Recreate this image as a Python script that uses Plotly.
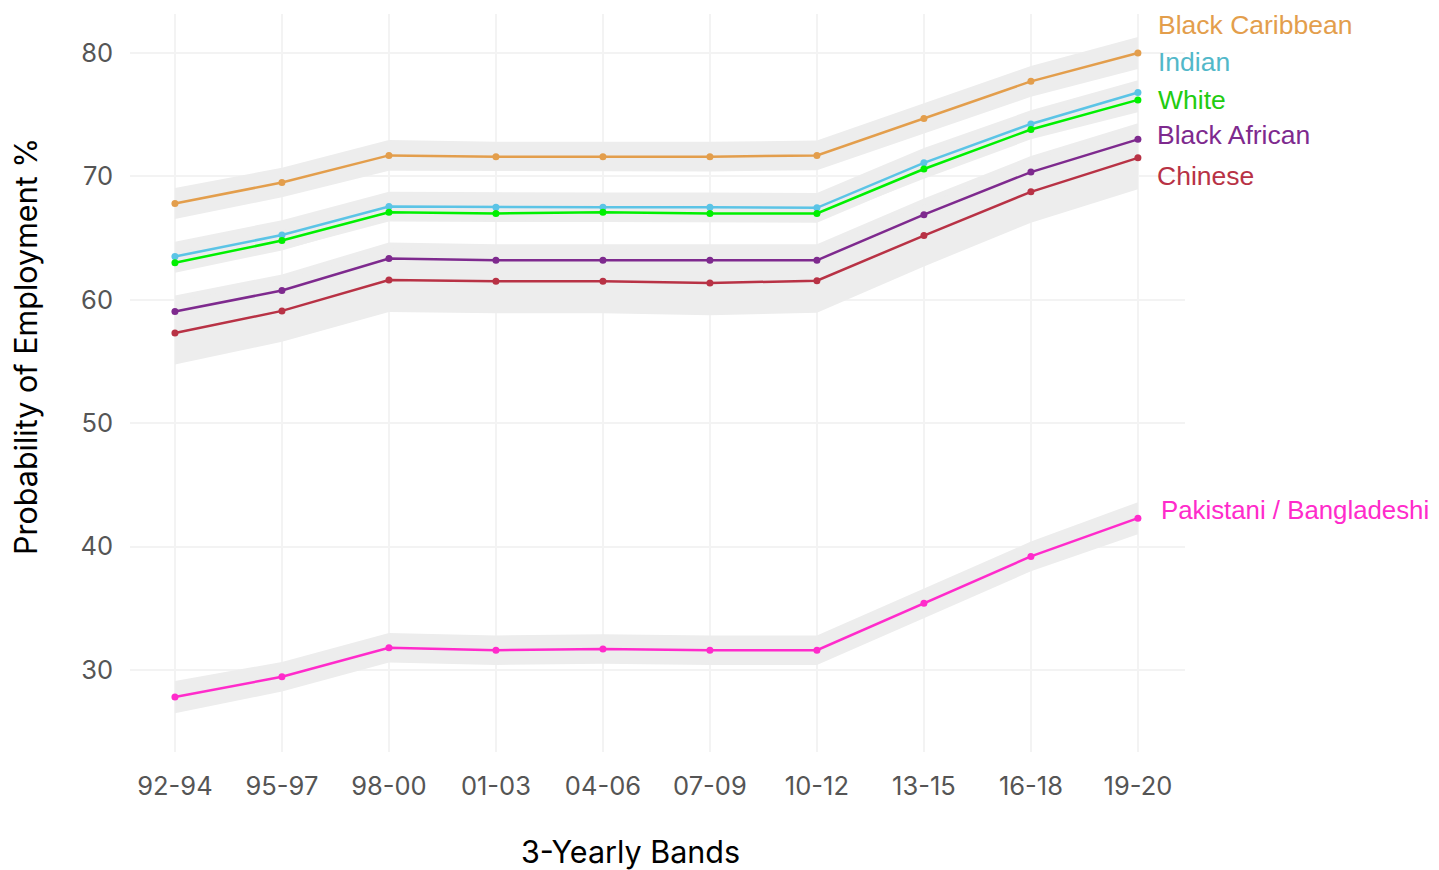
import plotly.graph_objects as go

bands = ["92-94", "95-97", "98-00", "01-03", "04-06", "07-09", "10-12", "13-15", "16-18", "19-20"]

black_caribbean = [67.8, 69.5, 71.7, 71.6, 71.6, 71.6, 71.7, 74.7, 77.7, 80.0]
indian = [63.5, 65.25, 67.55, 67.5, 67.5, 67.5, 67.45, 71.1, 74.25, 76.8]
white = [63.0, 64.8, 67.1, 67.0, 67.1, 67.0, 67.0, 70.6, 73.8, 76.2]
black_african = [59.05, 60.75, 63.35, 63.2, 63.2, 63.2, 63.2, 66.9, 70.35, 73.0]
chinese = [57.3, 59.1, 61.6, 61.5, 61.5, 61.35, 61.55, 65.2, 68.75, 71.5]
pakistani_bangladeshi = [27.8, 29.45, 31.8, 31.6, 31.7, 31.6, 31.6, 35.4, 39.2, 42.3]

# confidence half-widths (percentage points)
ci_black_caribbean = [1.25, 1.2, 1.25, 1.2, 1.2, 1.2, 1.2, 1.25, 1.25, 1.3]
ci_indian = [1.2, 1.2, 1.2, 1.2, 1.2, 1.2, 1.2, 1.2, 1.1, 1.0]
ci_white = [0.8, 0.8, 0.6, 0.6, 0.6, 0.6, 0.6, 0.8, 0.8, 1.0]
ci_black_african = [1.3, 1.3, 1.3, 1.3, 1.3, 1.3, 1.3, 1.3, 1.3, 1.3]
ci_chinese = [2.55, 2.5, 2.6, 2.6, 2.6, 2.6, 2.6, 2.5, 2.5, 2.55]
ci_pakistani_bangladeshi = [1.3, 1.2, 1.2, 1.2, 1.2, 1.2, 1.2, 1.2, 1.2, 1.3]

series_names = ["Black Caribbean", "Indian", "White", "Black African", "Chinese", "Pakistani / Bangladeshi"]
series_values = [black_caribbean, indian, white, black_african, chinese, pakistani_bangladeshi]
series_ci = [ci_black_caribbean, ci_indian, ci_white, ci_black_african, ci_chinese, ci_pakistani_bangladeshi]
line_colors = ["#E39E4C", "#5BC4E6", "#00F000", "#7E2A8E", "#B83245", "#FF2BCB"]
label_colors = ["#E39E4C", "#52B8C9", "#22CC11", "#7E2A8E", "#B83245", "#FF2BCB"]
label_y = [82.27, 79.27, 76.19, 73.35, 70.03, 42.97]
label_shift = [18, 18, 18, 17, 17, 21]
label_size = [26.5, 26.5, 26.5, 26.5, 26.5, 25.8]

x = list(range(len(bands)))
fig = go.Figure()

for vals, ci in zip(series_values, series_ci):
    upper = [v + c for v, c in zip(vals, ci)]
    lower = [v - c for v, c in zip(vals, ci)]
    fig.add_trace(go.Scatter(
        x=x + x[::-1], y=upper + lower[::-1],
        fill="toself", fillcolor="#EDEDED", line=dict(width=0),
        mode="lines", hoverinfo="skip", showlegend=False))

for name, vals, col in zip(series_names, series_values, line_colors):
    fig.add_trace(go.Scatter(
        x=x, y=vals, mode="lines+markers", name=name,
        line=dict(color=col, width=2.5), marker=dict(color=col, size=7),
        showlegend=False))

for name, ly, col, sh, fs in zip(series_names, label_y, label_colors, label_shift, label_size):
    fig.add_annotation(x=x[-1], y=ly, text=name, showarrow=False,
                       xanchor="left", yanchor="middle", xshift=sh,
                       font=dict(family="Liberation Sans, Arial", size=fs, color=col))

fig.add_annotation(x=0.474, y=-0.135, xref="paper", yref="paper", text="3-Yearly Bands",
                   showarrow=False, xanchor="center", yanchor="middle",
                   font=dict(family="Inter", size=30.5, color="#000000"))
fig.add_annotation(x=-0.0985, y=0.549, xref="paper", yref="paper", text="Probability of Employment %",
                   showarrow=False, textangle=-90, xanchor="center", yanchor="middle",
                   font=dict(family="Inter", size=30.5, color="#000000"))

fig.update_layout(
    width=1431, height=862,
    margin=dict(l=122, r=254, t=6, b=118),
    paper_bgcolor="white", plot_bgcolor="white",
    font=dict(family="Inter", color="#555555"),
    xaxis=dict(tickmode="array", tickvals=x, ticktext=bands, range=[-0.42, 9.44],
               showgrid=True, gridcolor="#F3F3F3", gridwidth=2, zeroline=False,
               showline=False, ticks="", ticklabelstandoff=16,
               tickfont=dict(family="Inter", size=25.5, color="#555555")),
    yaxis=dict(range=[23.35, 83.16], tickvals=[30, 40, 50, 60, 70, 80],
               showgrid=True, gridcolor="#F3F3F3", gridwidth=2, zeroline=False,
               showline=False, ticks="", ticklabelstandoff=16,
               tickfont=dict(family="Inter", size=25.5, color="#555555")),
)

fig.write_html("out.html")
